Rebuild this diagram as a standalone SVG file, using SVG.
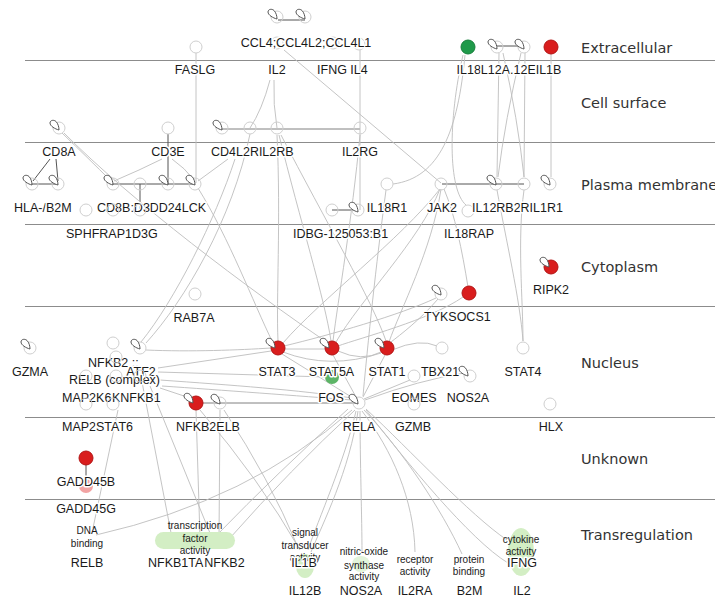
<svg xmlns="http://www.w3.org/2000/svg" xmlns:xlink="http://www.w3.org/1999/xlink" width="715" height="599" viewBox="0 0 715 599">
<style>
.lane{stroke:#8c8c8c;stroke-width:1}
.lt{font-family:"DejaVu Sans",sans-serif;font-size:14.5px;fill:#333}
.lb{font-family:"Liberation Sans",Arial,sans-serif;font-size:12.5px;fill:#1a1a1a;stroke:#fff;stroke-width:3;paint-order:stroke;stroke-linejoin:round}
.mid{text-anchor:middle}
.an{font-family:"Liberation Sans",Arial,sans-serif;font-size:10px;fill:#1a1a1a;text-anchor:middle}
.c{fill:none;stroke:#cfcfcf;stroke-width:1}
.r{fill:#d91d1d;stroke:#b31414;stroke-width:1}
.g{fill:#1f9a4a;stroke:#177f3b;stroke-width:1}
.e{fill:none;stroke:#bdbdbd;stroke-width:0.9}
.d{fill:none;stroke:#555;stroke-width:1}
.m{fill:none;stroke:#808080;stroke-width:1}
.lp{fill:#fff;stroke:#555;stroke-width:1}
.blob{fill:#d3eec4}
</style>
<defs>
<path id="loop" class="lp" d="M0,2 C-4,1 -9,-2 -9,-5 C-9,-8 -5,-8.5 -3,-6.5 C-1,-4.5 0,-1 0,2 Z"/>
</defs>
<rect width="715" height="599" fill="#fff"/>
<g id="lanes">
<line class="lane" x1="25" y1="60.5" x2="715" y2="60.5"/>
<line class="lane" x1="25" y1="142.5" x2="715" y2="142.5"/>
<line class="lane" x1="25" y1="224.5" x2="715" y2="224.5"/>
<line class="lane" x1="25" y1="306.5" x2="715" y2="306.5"/>
<line class="lane" x1="25" y1="417.5" x2="715" y2="417.5"/>
<line class="lane" x1="25" y1="499.5" x2="715" y2="499.5"/>
<text class="lt" x="581" y="53">Extracellular</text>
<text class="lt" x="581" y="108">Cell surface</text>
<text class="lt" x="581" y="190">Plasma membrane</text>
<text class="lt" x="581" y="272">Cytoplasm</text>
<text class="lt" x="581" y="368">Nucleus</text>
<text class="lt" x="581" y="464">Unknown</text>
<text class="lt" x="581" y="540">Transregulation</text>
</g>
<g id="connectors">
<path class="d" d="M278,20H305"/>
<path class="d" d="M497,46H523"/>
<path class="m" d="M222,129H360"/>
<path class="d" d="M32,184H58"/>
<path class="d" d="M50,159L33,181"/>
<path class="d" d="M56,159L58,181"/>
<path class="d" d="M113,184H195"/>
<path class="d" d="M168,134V184"/>
<path class="d" d="M140,184V210"/>
<path class="d" d="M332,210H356"/>
<path class="d" d="M442,184H524"/>
<path class="d" d="M86,458V485"/>
<path class="m" d="M196,403H358"/>
<path class="e" d="M196,53V183"/>
<path class="e" d="M360,50V210"/>
<path class="e" d="M270,80Q262,110 250,128"/>
<path class="e" d="M274,80Q273,105 277,128"/>
<path class="e" d="M284,50L441,183"/>
<path class="e" d="M62,133Q90,160 110,180"/>
<path class="e" d="M64,133C130,200 250,290 328,343"/>
<path class="e" d="M162,159Q140,170 114,181"/>
<path class="e" d="M172,159Q185,168 194,180"/>
<path class="e" d="M228,159L198,181"/>
<path class="e" d="M235,159C215,220 175,300 141,342"/>
<path class="e" d="M250,134C232,220 185,300 146,343"/>
<path class="e" d="M277,135C281,220 276,300 278,341"/>
<path class="e" d="M279,135C300,220 325,300 331,341"/>
<path class="e" d="M281,135C325,220 372,300 386,341"/>
<path class="e" d="M360,135C352,220 338,300 333,341"/>
<path class="e" d="M198,188C230,240 252,300 273,343"/>
<path class="e" d="M465,55C458,130 440,178 393,184"/>
<path class="e" d="M463,55C448,120 448,190 466,205"/>
<path class="e" d="M499,53L497,177"/>
<path class="e" d="M503,53Q518,120 524,177"/>
<path class="e" d="M521,53Q505,120 498,177"/>
<path class="e" d="M525,53L524,177"/>
<path class="e" d="M551,54V177"/>
<path class="e" d="M497,190C506,240 520,300 523,341"/>
<path class="e" d="M524,190C517,240 523,300 523,341"/>
<path class="e" d="M440,189C400,240 320,300 283,343"/>
<path class="e" d="M440,189C420,240 360,300 336,342"/>
<path class="e" d="M441,189C432,250 400,310 389,342"/>
<path class="e" d="M468,287C462,250 455,215 444,189"/>
<path class="e" d="M386,190C378,250 370,320 363,396"/>
<path class="e" d="M436,298C400,315 330,335 284,346"/>
<path class="e" d="M438,299C420,320 400,335 391,342"/>
<path class="e" d="M463,297C430,320 360,338 338,346"/>
<path class="e" d="M284,349H326"/>
<path class="e" d="M338,351Q362,362 381,352"/>
<path class="e" d="M283,352Q330,370 381,353"/>
<path class="e" d="M146,350C190,352 240,350 271,348"/>
<path class="e" d="M158,368L271,351"/>
<path class="e" d="M158,372L326,377"/>
<path class="e" d="M162,386C220,390 300,396 352,400"/>
<path class="e" d="M160,388L190,398"/>
<path class="e" d="M160,380C230,385 300,390 352,398"/>
<path class="e" d="M282,354L353,398"/>
<path class="e" d="M333,355L356,397"/>
<path class="e" d="M385,355L363,397"/>
<path class="e" d="M392,350Q420,338 437,346"/>
<path class="e" d="M364,399L410,380"/>
<path class="e" d="M365,400Q420,380 464,373"/>
<path class="e" d="M352,410Q250,500 96,535"/>
<path class="e" d="M355,410Q290,470 230,538"/>
<path class="e" d="M348,409Q280,470 214,538"/>
<path class="e" d="M356,411C345,460 318,520 308,550"/>
<path class="e" d="M358,411C350,470 322,525 311,552"/>
<path class="e" d="M360,411C360,460 362,520 362,552"/>
<path class="e" d="M362,411C392,450 414,500 415,552"/>
<path class="e" d="M364,410C402,450 442,510 462,554"/>
<path class="e" d="M366,409C410,450 470,515 507,540"/>
<path class="e" d="M366,410C405,460 470,540 508,563"/>
<path class="e" d="M142,382L172,538"/>
<path class="e" d="M150,386L212,538"/>
<path class="e" d="M220,410L219,538"/>
<path class="e" d="M196,410L200,538"/>
<path class="e" d="M118,410L93,528"/>
<path class="e" d="M200,410Q260,480 300,550"/>
<path class="e" d="M224,410Q270,480 297,545"/>
</g>
<g id="FASLG"><circle class="c" cx="196" cy="47" r="6"/><text class="lb mid" x="195" y="74">FASLG</text></g>
<g id="IL2"><circle class="c" cx="277" cy="43" r="6"/><text class="lb mid" x="277" y="74">IL2</text></g>
<g id="IFNG"><circle class="c" cx="333" cy="43" r="6"/><text class="lb mid" x="332" y="74">IFNG</text></g>
<g id="IL4"><circle class="c" cx="359" cy="44" r="6"/><text class="lb mid" x="359" y="74">IL4</text></g>
<g id="CCL4"><circle class="c" cx="277" cy="17" r="6"/><circle class="c" cx="305" cy="17" r="6"/><use href="#loop" x="277" y="17"/><use href="#loop" x="305" y="17"/><text class="lb mid" x="306" y="47">CCL4;CCL4L2;CCL4L1</text></g>
<g id="IL18"><circle class="g" cx="468" cy="47" r="7"/><text class="lb" x="456.5" y="74">IL18</text></g>
<g id="IL12A"><circle class="c" cx="497" cy="47" r="6"/><use href="#loop" x="497" y="47"/><text class="lb" x="480.8" y="74">L12A</text></g>
<g id="IL12B"><circle class="c" cx="524" cy="47" r="6"/><use href="#loop" x="524" y="47"/><text class="lb" x="510" y="74">.12E</text></g>
<g id="IL1B"><circle class="r" cx="551" cy="47" r="7"/><text class="lb" x="535.7" y="74">IL1B</text></g>
<g id="CD8A"><circle class="c" cx="59" cy="128" r="6"/><use href="#loop" x="59" y="128"/><text class="lb mid" x="59" y="156">CD8A</text></g>
<g id="CD3E"><circle class="c" cx="168" cy="128" r="6"/><text class="lb mid" x="168" y="156">CD3E</text></g>
<g id="CD4"><circle class="c" cx="222" cy="128" r="6"/><use href="#loop" x="222" y="128"/><text class="lb" x="211" y="156">CD4</text></g>
<g id="IL2RA"><circle class="c" cx="250" cy="128" r="6"/><text class="lb" x="236" y="156">L2R</text></g>
<g id="IL2RB"><circle class="c" cx="277" cy="128" r="6"/><text class="lb" x="258.9" y="156">IL2RB</text></g>
<g id="IL2RG"><circle class="c" cx="360" cy="128" r="6"/><text class="lb mid" x="360" y="156">IL2RG</text></g>
<g id="HLA-A"><circle class="c" cx="32" cy="184" r="6"/><use href="#loop" x="32" y="183"/><text class="lb" x="14" y="212">HLA-/</text></g>
<g id="B2M"><circle class="c" cx="58" cy="184" r="6"/><use href="#loop" x="58" y="183"/><text class="lb" x="46" y="212">B2M</text></g>
<g id="CD8B"><circle class="c" cx="113" cy="184" r="6"/><use href="#loop" x="113" y="183"/><text class="lb" x="97" y="212">CD8B</text></g>
<g id="CD3D"><circle class="c" cx="140" cy="184" r="6"/><text class="lb" x="130.4" y="212">:D3D</text></g>
<g id="CD247"><circle class="c" cx="168" cy="184" r="6"/><use href="#loop" x="168" y="183"/><text class="lb" x="158.8" y="212">D24</text></g>
<g id="LCK"><circle class="c" cx="195" cy="184" r="6"/><use href="#loop" x="195" y="183"/><text class="lb" x="181.8" y="212">LCK</text></g>
<g id="SPHK1"><circle class="c" cx="86" cy="210" r="6"/><text class="lb" x="66" y="238">SPH</text></g>
<g id="FRAP1"><circle class="c" cx="113" cy="210" r="6"/><text class="lb" x="91.7" y="238">FRAP1</text></g>
<g id="CD3G"><circle class="c" cx="140" cy="210" r="6"/><text class="lb" x="132" y="238">D3G</text></g>
<g id="IDBG-125053"><circle class="c" cx="332" cy="210" r="6"/><text class="lb" x="293" y="238">IDBG-125053</text></g>
<g id="B1"><circle class="c" cx="358" cy="210" r="6"/><use href="#loop" x="358" y="210"/><text class="lb" x="369.4" y="238">:B1</text></g>
<g id="IL18R1"><circle class="c" cx="387" cy="184" r="6"/><text class="lb mid" x="387" y="212">IL18R1</text></g>
<g id="JAK2"><circle class="c" cx="441" cy="184" r="6"/><text class="lb mid" x="442" y="212">JAK2</text></g>
<g id="IL18RAP"><circle class="c" cx="468" cy="211" r="6"/><text class="lb mid" x="469" y="238">IL18RAP</text></g>
<g id="IL12RB2"><circle class="c" cx="496" cy="184" r="6"/><use href="#loop" x="496" y="183"/><text class="lb" x="472" y="212">IL12RB2</text></g>
<g id="IL12RB1"><circle class="c" cx="524" cy="184" r="6"/><text class="lb" x="520.6" y="212">R</text></g>
<g id="IL1R1"><circle class="c" cx="550" cy="184" r="6"/><use href="#loop" x="550" y="183"/><text class="lb" x="529.6" y="212">IL1R1</text></g>
<g id="RAB7A"><circle class="c" cx="195" cy="294" r="6"/><text class="lb mid" x="194" y="322">RAB7A</text></g>
<g id="RIPK2"><circle class="r" cx="551" cy="267" r="7"/><use href="#loop" x="549" y="265"/><text class="lb mid" x="551" y="294">RIPK2</text></g>
<g id="TYK2"><circle class="c" cx="441" cy="294" r="6"/><use href="#loop" x="441" y="293"/><text class="lb" x="424" y="321">TYK</text></g>
<g id="SOCS1"><circle class="r" cx="469" cy="293" r="7"/><text class="lb" x="448.3" y="321">SOCS1</text></g>
<g id="GZMA"><circle class="c" cx="30" cy="348" r="6"/><use href="#loop" x="30" y="347"/><text class="lb mid" x="30" y="376">GZMA</text></g>
<g id="NFKB2-complex"><circle class="c" cx="113" cy="343" r="6"/><text class="lb" x="88" y="367">NFKB2 ::</text></g>
<g id="ATF2"><circle class="c" cx="140" cy="348" r="6"/><use href="#loop" x="140" y="347"/><text class="lb mid" x="141" y="376">ATF2</text></g>
<g id="RELB-complex"><circle class="c" cx="116" cy="357" r="6"/><text class="lb" x="69" y="384">RELB (complex)</text></g>
<g id="MAP2K6"><circle class="c" cx="86" cy="376" r="6"/><text class="lb" x="62" y="402">MAP2K6</text></g>
<g id="K-node"><circle class="c" cx="116" cy="376" r="6"/><text class="lb" x="112" y="402">K</text></g>
<g id="NFKB1"><circle class="c" cx="140" cy="376" r="6"/><text class="lb" x="120.3" y="402">NFKB1</text></g>
<g id="STAT3"><circle class="r" cx="278" cy="348" r="7"/><use href="#loop" x="275" y="346"/><text class="lb mid" x="277" y="376">STAT3</text></g>
<g id="FOS"><circle cx="332" cy="377" r="7" fill="#5cb466"/><text class="lb mid" x="331" y="402">FOS</text></g>
<g id="STAT5A"><circle class="r" cx="332" cy="348" r="7"/><use href="#loop" x="329" y="346"/><text class="lb mid" x="331.5" y="376">STAT5A</text></g>
<g id="STAT1"><circle class="r" cx="387" cy="348" r="7"/><use href="#loop" x="384" y="346"/><text class="lb mid" x="387" y="376">STAT1</text></g>
<g id="TBX21"><circle class="c" cx="442" cy="348" r="6"/><text class="lb mid" x="440" y="376">TBX21</text></g>
<g id="EOMES"><circle class="c" cx="414" cy="376" r="6"/><text class="lb mid" x="414" y="402">EOMES</text></g>
<g id="NOS2A"><circle class="c" cx="470" cy="376" r="6"/><use href="#loop" x="468" y="374"/><text class="lb mid" x="468" y="402">NOS2A</text></g>
<g id="STAT4"><circle class="c" cx="523" cy="348" r="6"/><text class="lb mid" x="523" y="376">STAT4</text></g>
<g id="HLX"><circle class="c" cx="550" cy="404" r="6"/><text class="lb mid" x="551" y="431">HLX</text></g>
<g id="GZMB"><circle class="c" cx="414" cy="404" r="6"/><text class="lb mid" x="413" y="431">GZMB</text></g>
<g id="RELA"><circle class="c" cx="359" cy="403" r="6"/><use href="#loop" x="358" y="402"/><text class="lb mid" x="359" y="431">RELA</text></g>
<g id="NFKB2"><circle class="r" cx="196" cy="403" r="7"/><use href="#loop" x="193" y="401"/><text class="lb" x="176" y="431">NFKB2</text></g>
<g id="RELB"><circle class="c" cx="220" cy="403" r="6"/><use href="#loop" x="220" y="402"/><text class="lb" x="216.3" y="431">ELB</text></g>
<g id="MAP2K3"><circle class="c" cx="86" cy="404" r="6"/><text class="lb" x="62" y="431">MAP2</text></g>
<g id="STAT6"><circle class="c" cx="113" cy="404" r="6"/><text class="lb" x="96" y="431">STAT6</text></g>
<g id="GADD45G"><circle cx="86" cy="486" r="7" fill="#f2a3a3"/><text class="lb mid" x="86" y="513">GADD45G</text></g>
<g id="GADD45B"><circle class="r" cx="86" cy="458" r="7"/><text class="lb mid" x="86" y="486">GADD45B</text></g>
<g id="T-RELB"><text class="an" x="87" y="534">DNA</text><text class="an" x="87" y="547">binding</text><text class="lb mid" x="87" y="567">RELB</text></g>
<g id="T-TF"><rect class="blob" x="155" y="532" width="80" height="17" rx="8.5"/><text class="an" x="195" y="529">transcription</text><text class="an" x="195" y="542">factor</text><text class="an" x="195" y="554">activity</text></g>
<g id="T-NFKB1"><text class="lb" x="148" y="567">NFKB1</text></g>
<g id="T-TA"><text class="lb" x="188.3" y="567">TA</text></g>
<g id="T-NFKB2"><text class="lb" x="204.3" y="567">NFKB2</text></g>
<g id="T-IL1B"><ellipse class="blob" cx="305" cy="566" rx="9" ry="12"/><text class="an" x="305" y="536">signal</text><text class="an" x="305" y="549">transducer</text><text class="an" x="305" y="561">activity</text><text class="lb mid" x="304" y="567">IL1B</text></g>
<g id="T-IL12B"><text class="lb mid" x="305" y="595">IL12B</text></g>
<g id="T-NOS2A"><ellipse cx="361" cy="564" rx="9" ry="8" fill="#e2f4da"/><text class="an" x="364" y="555">nitric-oxide</text><text class="an" x="364" y="569">synthase</text><text class="an" x="364" y="580">activity</text><text class="lb mid" x="361" y="595">NOS2A</text></g>
<g id="T-IL2RA"><text class="an" x="415" y="563">receptor</text><text class="an" x="415" y="575">activity</text><text class="lb mid" x="415" y="595">IL2RA</text></g>
<g id="T-B2M"><text class="an" x="469" y="563">protein</text><text class="an" x="469" y="575">binding</text><text class="lb mid" x="469.5" y="595">B2M</text></g>
<g id="T-IFNG"><ellipse class="blob" cx="521" cy="552" rx="13" ry="24"/><text class="an" x="521" y="543">cytokine</text><text class="an" x="521" y="555">activity</text><text class="lb mid" x="522" y="567">IFNG</text></g>
<g id="T-IL2"><text class="lb mid" x="522" y="595">IL2</text></g>
</svg>
